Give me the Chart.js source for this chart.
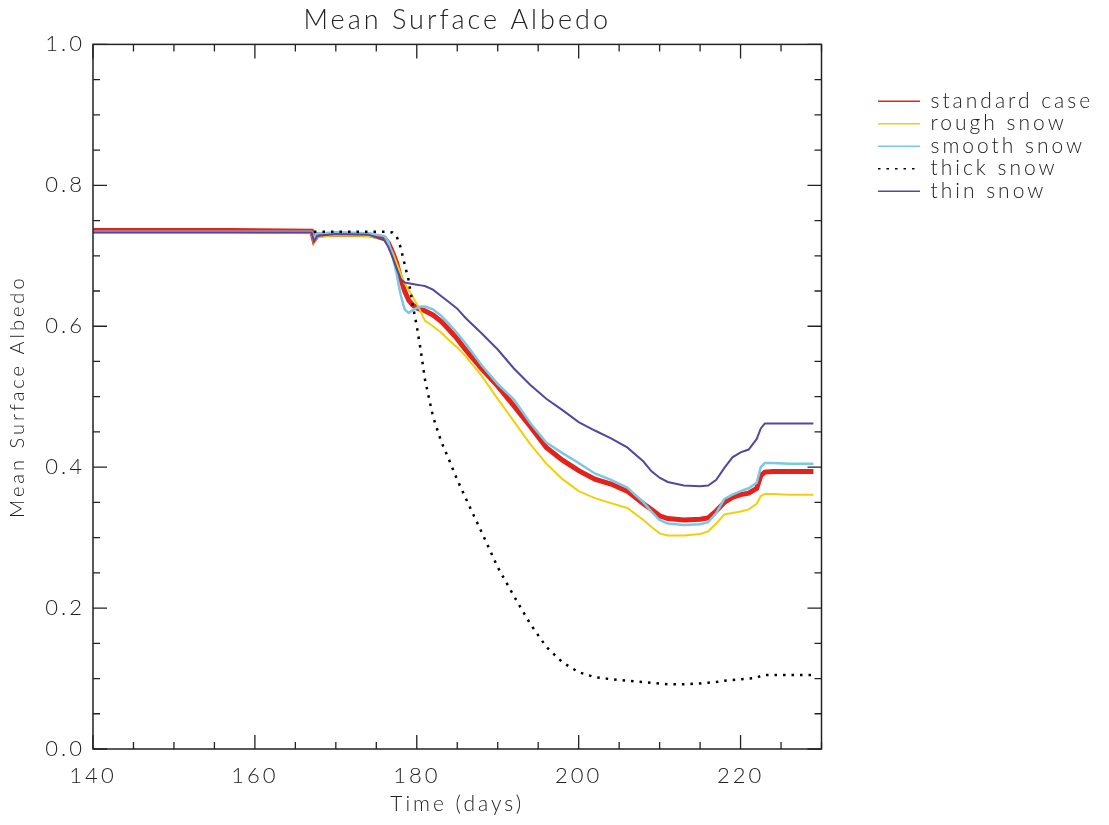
<!DOCTYPE html>
<html>
<head>
<meta charset="utf-8">
<script src="https://cdn.jsdelivr.net/npm/chart.js@4/dist/chart.umd.min.js"></script>
<style>
  html, body { margin: 0; padding: 0; background: #fff; }
  #wrap { width: 1109px; height: 825px; }
</style>
</head>
<body>
<div id="wrap"><canvas id="albedoChart" width="1109" height="825"></canvas></div>
<script>
// --- Data ---
const days = [140, 157, 167, 167.3, 167.7, 170, 174, 176, 176.5, 177,
  177.5, 178, 178.5, 179, 179.5, 180, 180.5, 181, 182, 183,
  184, 185, 186, 188, 190, 192, 194, 196, 198, 200,
  202, 204, 206, 208, 209, 210, 211, 213, 215, 216,
  217, 218, 219, 220, 221, 222, 222.5, 223, 224, 226, 229];

const standardCase = [0.736, 0.736, 0.735, 0.722, 0.729, 0.731, 0.730, 0.725, 0.718, 0.705,
  0.690, 0.668, 0.650, 0.637, 0.630, 0.626, 0.624, 0.622, 0.616, 0.607,
  0.595, 0.582, 0.567, 0.540, 0.515, 0.487, 0.458, 0.428, 0.410, 0.395,
  0.383, 0.376, 0.366, 0.348, 0.340, 0.331, 0.327, 0.325, 0.326, 0.328,
  0.338, 0.350, 0.357, 0.361, 0.363, 0.370, 0.388, 0.393, 0.394, 0.394, 0.394];

const roughSnow = [0.733, 0.733, 0.732, 0.718, 0.727, 0.729, 0.728, 0.722, 0.716, 0.705,
  0.690, 0.675, 0.661, 0.652, 0.642, 0.632, 0.620, 0.608, 0.600, 0.591,
  0.580, 0.570, 0.558, 0.530, 0.497, 0.465, 0.433, 0.405, 0.383, 0.366,
  0.356, 0.349, 0.342, 0.325, 0.315, 0.306, 0.303, 0.303, 0.305, 0.309,
  0.320, 0.333, 0.335, 0.337, 0.340, 0.348, 0.359, 0.362, 0.362, 0.361, 0.361];

const smoothSnow = [0.734, 0.734, 0.734, 0.726, 0.732, 0.733, 0.732, 0.728, 0.720, 0.700,
  0.675, 0.645, 0.624, 0.619, 0.623, 0.626, 0.628, 0.628, 0.624, 0.615,
  0.603, 0.590, 0.576, 0.545, 0.518, 0.496, 0.463, 0.435, 0.420, 0.406,
  0.391, 0.382, 0.371, 0.350, 0.337, 0.325, 0.320, 0.318, 0.319, 0.322,
  0.335, 0.355, 0.361, 0.366, 0.370, 0.378, 0.400, 0.406, 0.406, 0.405, 0.405];

const thickSnow = [null, null, null, 0.734, 0.734, 0.734, 0.734, 0.734, 0.734, 0.733,
  0.728, 0.712, 0.688, 0.665, 0.630, 0.600, 0.565, 0.525, 0.472, 0.437,
  0.410, 0.382, 0.357, 0.308, 0.258, 0.217, 0.178, 0.145, 0.123, 0.109,
  0.102, 0.099, 0.097, 0.095, 0.094, 0.093, 0.092, 0.092, 0.093, 0.094,
  0.095, 0.097, 0.098, 0.099, 0.100, 0.101, 0.104, 0.105, 0.105, 0.105, 0.105];

const thinSnow = [0.733, 0.733, 0.733, 0.720, 0.728, 0.731, 0.730, 0.722, 0.712, 0.698,
  0.682, 0.667, 0.662, 0.661, 0.660, 0.659, 0.658, 0.657, 0.652, 0.643,
  0.634, 0.625, 0.612, 0.590, 0.567, 0.540, 0.517, 0.497, 0.481, 0.464,
  0.452, 0.441, 0.428, 0.408, 0.394, 0.385, 0.379, 0.374, 0.373, 0.374,
  0.382, 0.399, 0.414, 0.421, 0.425, 0.440, 0.455, 0.462, 0.462, 0.462, 0.462];

const xTickValues = [140, 160, 180, 200, 220];
const yTickValues = [0, 0.2, 0.4, 0.6, 0.8, 1.0];

const toPoints = arr => days.map((d, i) => ({ x: d, y: arr[i] }));

// IDL-style frame with inward major/minor ticks on all four sides
const frameTicks = {
  id: 'frameTicks',
  afterDatasetsDraw(chart) {
    const { ctx, chartArea: a, scales: { x, y } } = chart;
    ctx.save();
    ctx.strokeStyle = '#222';
    ctx.lineWidth = 1.5;
    ctx.strokeRect(a.left, a.top, a.right - a.left, a.bottom - a.top);
    ctx.lineWidth = 1.3;
    ctx.beginPath();
    for (let v = 140; v <= 230; v += 5) {
      const px = x.getPixelForValue(v);
      const len = v % 20 === 0 ? 14 : 7;
      ctx.moveTo(px, a.bottom); ctx.lineTo(px, a.bottom - len);
      ctx.moveTo(px, a.top); ctx.lineTo(px, a.top + len);
    }
    for (let i = 0; i <= 20; i++) {
      const py = y.getPixelForValue(i * 0.05);
      const len = i % 4 === 0 ? 14 : 7;
      ctx.moveTo(a.left, py); ctx.lineTo(a.left + len, py);
      ctx.moveTo(a.right, py); ctx.lineTo(a.right - len, py);
    }
    ctx.stroke();
    ctx.restore();
  }
};

// wide Hershey-like spacing for all text
const spacing = {
  id: 'spacing',
  beforeUpdate(chart) { chart.ctx.letterSpacing = '3px'; },
  beforeDraw(chart) { chart.ctx.letterSpacing = '3px'; }
};

Chart.defaults.font.family = 'Lato, "DejaVu Sans", sans-serif';
Chart.defaults.font.weight = '300';
Chart.defaults.color = '#222';

const ctx = document.getElementById('albedoChart').getContext('2d');
const chart = new Chart(ctx, {
  type: 'line',
  data: {
    datasets: [
      { label: 'standard case', data: toPoints(standardCase), borderColor: '#e3221c', borderWidth: 5, order: 5 },
      { label: 'rough snow', data: toPoints(roughSnow), borderColor: '#f2cf0a', borderWidth: 2, order: 4 },
      { label: 'smooth snow', data: toPoints(smoothSnow), borderColor: '#7cc8e4', borderWidth: 2.5, order: 3 },
      { label: 'thick snow', data: toPoints(thickSnow), borderColor: '#000', borderWidth: 2.5, borderDash: [2.5, 6], order: 2 },
      { label: 'thin snow', data: toPoints(thinSnow), borderColor: '#5646a0', borderWidth: 2, order: 1 }
    ]
  },
  options: {
    responsive: false,
    animation: false,
    elements: { point: { radius: 0 }, line: { tension: 0, fill: false } },
    layout: { padding: { left: 0, right: 8, top: 0, bottom: 0 } },
    plugins: {
      title: {
        display: true,
        text: 'Mean Surface Albedo',
        fullSize: false,
        font: { size: 27, weight: '300' },
        padding: { top: 4, bottom: 8 }
      },
      legend: {
        position: 'right',
        align: 'start',
        title: { display: true, text: ' ', padding: { top: 64, bottom: 0 }, font: { size: 21 } },
        labels: {
          usePointStyle: true,
          pointStyle: 'line',
          pointStyleWidth: 42,
          padding: 1.5,
          font: { size: 21, weight: '300' },
          color: '#222',
          sort: (a, b) => a.datasetIndex - b.datasetIndex,
          generateLabels(chart) {
            const items = Chart.defaults.plugins.legend.labels.generateLabels(chart);
            items.forEach(it => {
              const ds = chart.data.datasets[it.datasetIndex];
              it.lineWidth = 1.5;
              it.lineDash = ds.borderDash || [];
            });
            return items;
          }
        }
      },
      tooltip: { enabled: false }
    },
    scales: {
      x: {
        type: 'linear',
        min: 140,
        max: 230,
        afterFit: s => { s.height = 76; },
        afterBuildTicks: s => { s.ticks = xTickValues.map(v => ({ value: v })); },
        grid: { display: false, drawTicks: false },
        border: { display: false },
        ticks: { padding: 14, font: { size: 22, weight: '300' }, callback: v => String(v) },
        title: { display: true, text: 'Time (days)', font: { size: 21, weight: '300' }, padding: { top: 0, bottom: 8 } }
      },
      y: {
        min: 0,
        max: 1,
        afterFit: s => { s.width = 93; },
        afterBuildTicks: s => { s.ticks = yTickValues.map(v => ({ value: v })); },
        grid: { display: false, drawTicks: false },
        border: { display: false },
        ticks: { padding: 8, font: { size: 22, weight: '300' }, callback: v => v.toFixed(1) },
        title: { display: true, text: 'Mean Surface Albedo', font: { size: 20, weight: '300' }, padding: { top: 6, bottom: 0 } }
      },
      gap: {
        position: 'right',
        min: 0,
        max: 1,
        afterFit: s => { s.width = 55; },
        grid: { display: false, drawTicks: false },
        border: { display: false },
        ticks: { display: false }
      }
    }
  },
  plugins: [frameTicks, spacing]
});

// measureText ignores the letter spacing, so widen the legend box by hand
const baseFit = chart.legend.fit;
chart.legend.fit = function () { baseFit.call(this); this.width += 41; };
chart.update();
</script>
</body>
</html>
